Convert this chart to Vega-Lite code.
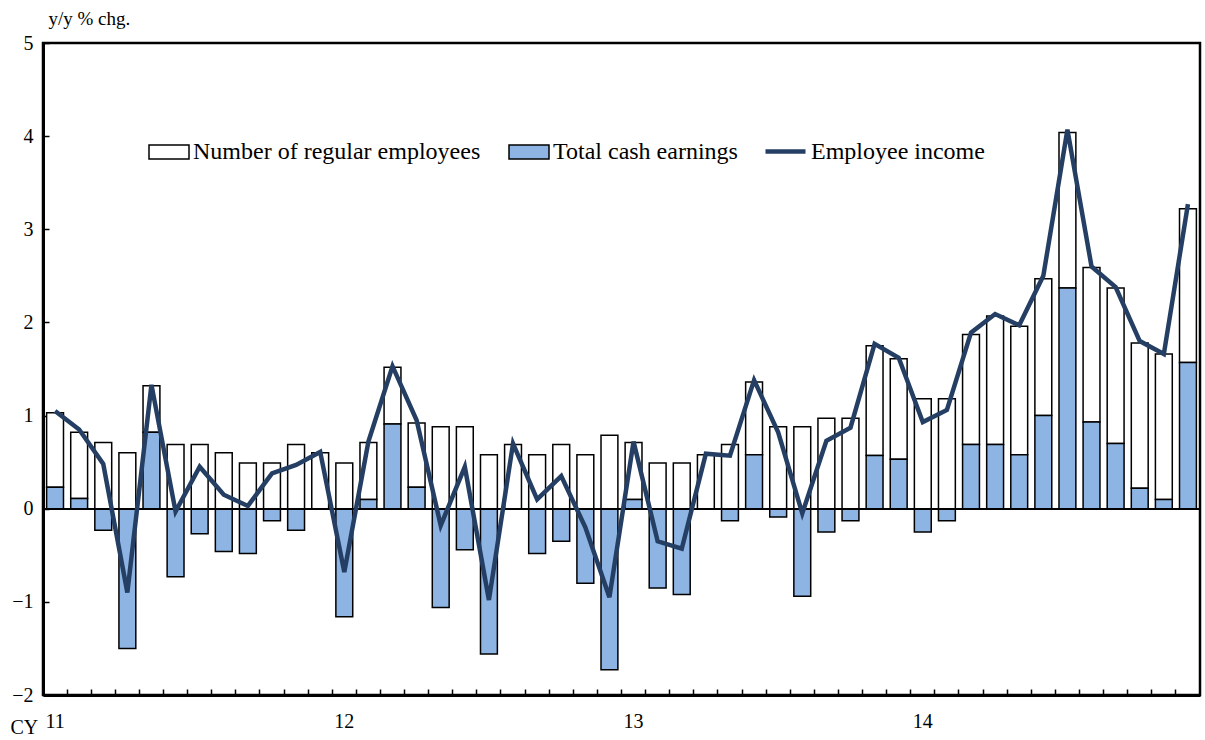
{
  "$schema": "https://vega.github.io/schema/vega-lite/v6.json",
  "width": 1157,
  "height": 652,
  "autosize": {"type": "none"},
  "padding": {"left": 43, "top": 43, "right": 5, "bottom": 45},
  "background": "white",
  "config": {
    "view": {"stroke": "black", "strokeWidth": 2.5},
    "font": "Liberation Serif",
    "axis": {"labelFont": "Liberation Serif", "titleFont": "Liberation Serif", "labelColor": "black", "titleColor": "black", "titleFontWeight": "normal", "grid": false},
    "legend": {"labelFont": "Liberation Serif", "labelColor": "black", "labelLimit": 400}
  },
  "data": {"values": [
    {"m": "2011-01", "cash": 0.23, "emp": 0.80, "inc": 1.05},
    {"m": "2011-02", "cash": 0.11, "emp": 0.71, "inc": 0.85},
    {"m": "2011-03", "cash": -0.23, "emp": 0.71, "inc": 0.48},
    {"m": "2011-04", "cash": -1.50, "emp": 0.60, "inc": -0.90},
    {"m": "2011-05", "cash": 0.82, "emp": 0.50, "inc": 1.33},
    {"m": "2011-06", "cash": -0.73, "emp": 0.69, "inc": -0.03},
    {"m": "2011-07", "cash": -0.27, "emp": 0.69, "inc": 0.45},
    {"m": "2011-08", "cash": -0.46, "emp": 0.60, "inc": 0.15},
    {"m": "2011-09", "cash": -0.48, "emp": 0.49, "inc": 0.03},
    {"m": "2011-10", "cash": -0.13, "emp": 0.49, "inc": 0.38},
    {"m": "2011-11", "cash": -0.23, "emp": 0.69, "inc": 0.47},
    {"m": "2011-12", "cash": 0.0, "emp": 0.60, "inc": 0.61},
    {"m": "2012-01", "cash": -1.16, "emp": 0.49, "inc": -0.68},
    {"m": "2012-02", "cash": 0.10, "emp": 0.61, "inc": 0.72},
    {"m": "2012-03", "cash": 0.91, "emp": 0.61, "inc": 1.53},
    {"m": "2012-04", "cash": 0.23, "emp": 0.69, "inc": 0.95},
    {"m": "2012-05", "cash": -1.06, "emp": 0.88, "inc": -0.18},
    {"m": "2012-06", "cash": -0.44, "emp": 0.88, "inc": 0.45},
    {"m": "2012-07", "cash": -1.56, "emp": 0.58, "inc": -0.98},
    {"m": "2012-08", "cash": 0.0, "emp": 0.69, "inc": 0.70},
    {"m": "2012-09", "cash": -0.48, "emp": 0.58, "inc": 0.10},
    {"m": "2012-10", "cash": -0.35, "emp": 0.69, "inc": 0.35},
    {"m": "2012-11", "cash": -0.80, "emp": 0.58, "inc": -0.20},
    {"m": "2012-12", "cash": -1.73, "emp": 0.79, "inc": -0.95},
    {"m": "2013-01", "cash": 0.10, "emp": 0.61, "inc": 0.72},
    {"m": "2013-02", "cash": -0.85, "emp": 0.49, "inc": -0.35},
    {"m": "2013-03", "cash": -0.92, "emp": 0.49, "inc": -0.43},
    {"m": "2013-04", "cash": 0.0, "emp": 0.58, "inc": 0.59},
    {"m": "2013-05", "cash": -0.13, "emp": 0.69, "inc": 0.57},
    {"m": "2013-06", "cash": 0.58, "emp": 0.78, "inc": 1.38},
    {"m": "2013-07", "cash": -0.09, "emp": 0.88, "inc": 0.82},
    {"m": "2013-08", "cash": -0.94, "emp": 0.88, "inc": -0.05},
    {"m": "2013-09", "cash": -0.25, "emp": 0.97, "inc": 0.73},
    {"m": "2013-10", "cash": -0.13, "emp": 0.97, "inc": 0.87},
    {"m": "2013-11", "cash": 0.57, "emp": 1.18, "inc": 1.77},
    {"m": "2013-12", "cash": 0.53, "emp": 1.08, "inc": 1.62},
    {"m": "2014-01", "cash": -0.25, "emp": 1.18, "inc": 0.93},
    {"m": "2014-02", "cash": -0.13, "emp": 1.18, "inc": 1.06},
    {"m": "2014-03", "cash": 0.69, "emp": 1.18, "inc": 1.89},
    {"m": "2014-04", "cash": 0.69, "emp": 1.38, "inc": 2.09},
    {"m": "2014-05", "cash": 0.58, "emp": 1.38, "inc": 1.97},
    {"m": "2014-06", "cash": 1.00, "emp": 1.47, "inc": 2.50},
    {"m": "2014-07", "cash": 2.37, "emp": 1.67, "inc": 4.07},
    {"m": "2014-08", "cash": 0.93, "emp": 1.66, "inc": 2.60},
    {"m": "2014-09", "cash": 0.70, "emp": 1.67, "inc": 2.38},
    {"m": "2014-10", "cash": 0.22, "emp": 1.56, "inc": 1.80},
    {"m": "2014-11", "cash": 0.10, "emp": 1.56, "inc": 1.66},
    {"m": "2014-12", "cash": 1.57, "emp": 1.65, "inc": 3.27}
  ]},
  "encoding": {
    "x": {
      "field": "m", "type": "ordinal",
      "scale": {"paddingInner": 0, "paddingOuter": 0},
      "axis": {
        "title": "CY", "titleX": -33, "titleY": 32, "titleAlign": "left", "titleBaseline": "middle", "titleFontSize": 20,
        "bandPosition": 0, "labelOffset": 0, "labelAngle": 0, "labelFontSize": 20, "labelBaseline": "middle", "labelPadding": 32,
        "labelOverlap": false, "labelFlush": false,
        "labelExpr": "substring(datum.value,5,7)=='01' ? substring(datum.value,2,4) : ''",
        "tickSize": -6, "tickColor": "black", "tickWidth": 1.5,
        "domainColor": "black", "domainWidth": 3
      }
    }
  },
  "layer": [
    {
      "transform": [{"fold": ["emp", "cash"], "as": ["key", "value"]}],
      "mark": {"type": "bar", "width": {"band": 0.7}, "stroke": "black", "strokeWidth": 1.5},
      "encoding": {
        "y": {
          "field": "value", "type": "quantitative", "stack": "zero",
          "scale": {"domain": [-2, 5], "nice": false},
          "axis": {
            "title": "y/y % chg.", "titleAngle": 0, "titleX": 5, "titleY": -25, "titleAlign": "left", "titleBaseline": "middle", "titleFontSize": 19,
            "values": [-2, -1, 0, 1, 2, 3, 4, 5], "format": "d", "labelFontSize": 20, "labelPadding": 16,
            "tickSize": -6, "tickColor": "black", "tickWidth": 1.5,
            "domainColor": "black", "domainWidth": 3
          }
        },
        "fill": {
          "field": "key", "type": "nominal",
          "scale": {"domain": ["emp", "cash"], "range": ["white", "#8DB4E2"]},
          "legend": {
            "title": null, "orient": "none", "legendX": 105, "legendY": 88, "direction": "horizontal", "columns": 2,
            "labelExpr": "datum.value == 'emp' ? 'Number of regular employees' : 'Total cash earnings'",
            "labelFontSize": 24, "labelOffset": 3, "columnPadding": 25,
            "symbolType": "M-1,-0.35H1V0.35H-1Z", "symbolSize": 1600, "symbolStrokeColor": "black", "symbolStrokeWidth": 1.5
          }
        },
        "order": {"field": "key", "sort": "ascending"}
      }
    },
    {
      "mark": {"type": "rule", "color": "black", "strokeWidth": 1.5},
      "encoding": {"y": {"datum": 0}, "x": null}
    },
    {
      "mark": {"type": "line", "strokeWidth": 4.5},
      "encoding": {
        "y": {"field": "inc", "type": "quantitative"},
        "stroke": {
          "datum": "Employee income",
          "scale": {"range": ["#243F63"]},
          "legend": {
            "title": null, "orient": "none", "legendX": 720, "legendY": 86,
            "labelFontSize": 24, "labelOffset": 3,
            "symbolType": "stroke", "symbolSize": 1600, "symbolStrokeWidth": 4.5
          }
        }
      }
    }
  ]
}
